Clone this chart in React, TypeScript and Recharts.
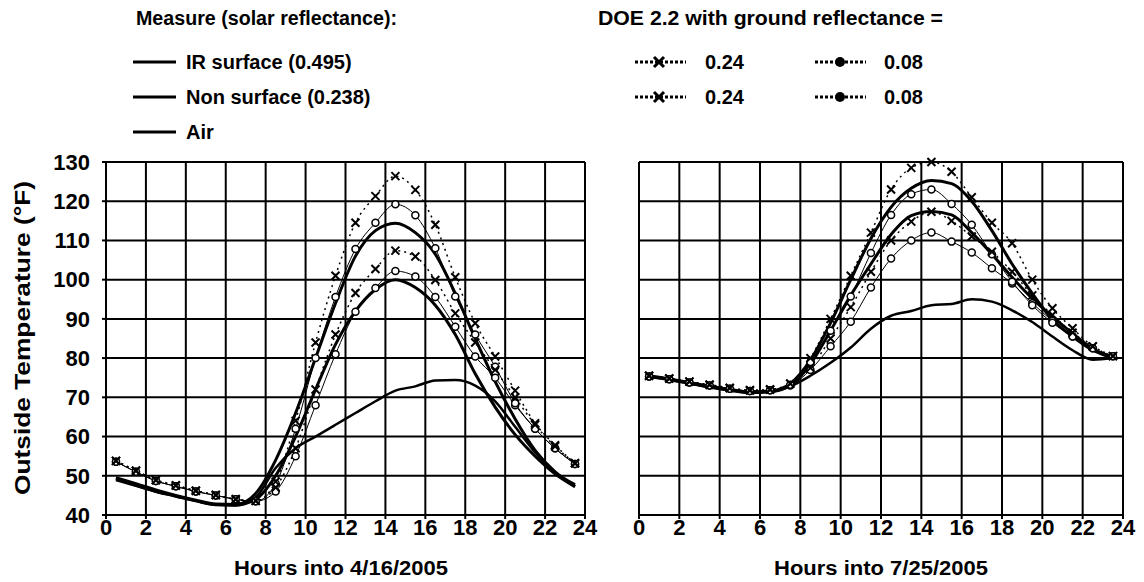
import { LineChart, Line, XAxis, YAxis, CartesianGrid } from 'recharts';

// hour of day for every reading (hourly averages, mid-hour)
const HOURS = [0.5, 1.5, 2.5, 3.5, 4.5, 5.5, 6.5, 7.5, 8.5, 9.5, 10.5, 11.5, 12.5, 13.5, 14.5, 15.5, 16.5, 17.5, 18.5, 19.5, 20.5, 21.5, 22.5, 23.5];
const X_TICKS = [0, 2, 4, 6, 8, 10, 12, 14, 16, 18, 20, 22, 24];
const Y_TICKS = [40, 50, 60, 70, 80, 90, 100, 110, 120, 130];

// 4/16/2005 - measured
const APR_NON = [49.5, 48, 46.4, 45, 43.8, 42.8, 42.7, 45.5, 54, 66, 80, 94, 106, 112.5, 114.4, 112, 106.5, 96.5, 85, 74, 64.5, 56.5, 51, 47.3];
const APR_IR = [49, 47.5, 46, 44.8, 43.6, 42.6, 42.5, 44, 50, 60, 72, 83.5, 92, 97.5, 100, 98, 93.5, 86, 76, 67.5, 60.5, 55, 50.5, 47.2];
const APR_AIR = [49.3, 47.5, 46, 44.8, 43.6, 42.6, 42.5, 44.5, 52, 57, 60, 63, 66, 69, 71.7, 72.8, 74.3, 74.4, 73, 69, 62.5, 56, 51, 47.8];
// 4/16/2005 - DOE 2.2
const APR_NON_024 = [53.8, 51.3, 48.9, 47.6, 46.2, 45.1, 44, 43.6, 48.5, 64, 84, 101, 114.5, 121.3, 126.4, 122.9, 114, 100.6, 88.9, 80.4, 71.7, 63.4, 57.8, 53.2];
const APR_NON_008 = [53.6, 51, 48.7, 47.3, 46, 45, 44, 43.5, 48, 62, 80, 95.6, 107.8, 114.5, 119.2, 116.4, 108, 95.7, 86, 77.8, 68.5, 62, 57, 53];
const APR_IR_024 = [53.8, 51.3, 48.9, 47.5, 46.2, 45.1, 44, 43.6, 47, 57, 72, 86, 96.6, 102.7, 107.4, 105.9, 99.9, 91.4, 84, 77, 70, 63, 57.5, 53.2];
const APR_IR_008 = [53.6, 51, 48.7, 47.3, 46, 45, 44, 43.5, 46, 55, 68, 81, 91.8, 97.9, 102.2, 100.8, 95.6, 88, 80.4, 75, 68, 62, 57, 53];

// 7/25/2005 - measured
const JUL_NON = [75.5, 74.7, 73.8, 72.8, 72, 71.4, 71.6, 73.5, 79.5, 89, 100, 110.5, 118.5, 123.3, 125.3, 124.5, 120, 112.5, 104, 96.5, 89.8, 85.5, 82, 80];
const JUL_IR = [75.3, 74.5, 73.6, 72.6, 71.8, 71.2, 71.4, 73, 78.5, 87, 96, 104, 111.5, 116.3, 117.4, 116.5, 112, 106.5, 100.6, 95.2, 90.6, 86.3, 82.3, 80];
const JUL_AIR = [75.3, 74.5, 73.6, 72.6, 71.8, 71.2, 71.4, 72.8, 75.5, 78.8, 82.7, 87.5, 90.8, 92, 93.5, 93.8, 95, 94.4, 92.2, 89.2, 85.5, 82, 79.6, 80];
// 7/25/2005 - DOE 2.2
const JUL_NON_024 = [75.5, 74.8, 74, 73.2, 72.4, 71.8, 72, 73.5, 80, 90, 101, 112, 123, 128.5, 130, 127.5, 121, 114.5, 109.3, 100, 92.7, 87.6, 83, 80.5];
const JUL_NON_008 = [75.3, 74.6, 73.8, 73, 72.2, 71.6, 71.8, 73.2, 79, 87, 95.7, 106.8, 116.5, 121.8, 123, 119.3, 114, 106.5, 99.5, 93.5, 89, 85.5, 82.5, 80.5];
const JUL_IR_024 = [75.5, 74.8, 74, 73.2, 72.4, 71.8, 72, 73.5, 77.5, 85, 93, 102, 110, 114.8, 117.3, 115, 111, 107.1, 102, 96, 91, 86.5, 83, 80.5];
const JUL_IR_008 = [75.3, 74.6, 73.8, 73, 72.2, 71.6, 71.8, 73, 77, 83, 89.3, 98, 105.4, 110, 112, 109.7, 106.9, 102.9, 99, 94, 89.5, 85.5, 82.5, 80.5];

const FONT = '"Liberation Sans", Arial, sans-serif';
const tickStyle = { fontFamily: FONT, fontWeight: 700, fontSize: 22, fill: '#000' };

const toRows = (vals: number[]) => HOURS.map((h, i) => ({ h, v: vals[i] }));

const CrossDot = (props: any) => {
    const { cx, cy, index } = props;
    if (cx == null || cy == null) return null;
    const s = 4;
    return (
        <path
            key={`x-${index}`}
            d={`M${cx - s},${cy - s}L${cx + s},${cy + s}M${cx + s},${cy - s}L${cx - s},${cy + s}`}
            stroke="#000"
            strokeWidth={2}
        />
    );
};

const CircleDot = (props: any) => {
    const { cx, cy, index } = props;
    if (cx == null || cy == null) return null;
    return <circle key={`o-${index}`} cx={cx} cy={cy} r={3.5} fill="#fff" stroke="#000" strokeWidth={1.5} />;
};

const NoTick = () => <g />;

interface PanelProps {
    non: number[];
    ir: number[];
    air: number[];
    non024: number[];
    non008: number[];
    ir024: number[];
    ir008: number[];
    width: number;
    margin: { top: number; right: number; bottom: number; left: number };
    yWidth: number;
    showY: boolean;
}

const Panel = ({ non, ir, air, non024, non008, ir024, ir008, width, margin, yWidth, showY }: PanelProps) => (
    <LineChart width={width} height={582} margin={margin}>
        <CartesianGrid stroke="#000" strokeWidth={2} />
        <XAxis
            type="number"
            dataKey="h"
            domain={[0, 24]}
            ticks={X_TICKS}
            interval={0}
            height={30}
            tick={tickStyle}
            tickSize={4}
            tickMargin={0}
            stroke="#000"
            strokeWidth={2}
        />
        <YAxis
            type="number"
            domain={[40, 130]}
            ticks={Y_TICKS}
            interval={0}
            width={yWidth}
            tick={showY ? tickStyle : NoTick}
            tickSize={showY ? 4 : 0}
            tickMargin={12}
            stroke="#000"
            strokeWidth={2}
        />
        <Line data={toRows(air)} dataKey="v" type="monotone" stroke="#000" strokeWidth={2.5} dot={false} isAnimationActive={false} />
        <Line data={toRows(ir008)} dataKey="v" type="monotone" stroke="#000" strokeWidth={1} dot={CircleDot} isAnimationActive={false} />
        <Line data={toRows(non008)} dataKey="v" type="monotone" stroke="#000" strokeWidth={1} dot={CircleDot} isAnimationActive={false} />
        <Line data={toRows(ir024)} dataKey="v" type="monotone" stroke="#000" strokeWidth={1.5} strokeDasharray="2 4" dot={CrossDot} isAnimationActive={false} />
        <Line data={toRows(non024)} dataKey="v" type="monotone" stroke="#000" strokeWidth={1.5} strokeDasharray="2 4" dot={CrossDot} isAnimationActive={false} />
        <Line data={toRows(ir)} dataKey="v" type="monotone" stroke="#000" strokeWidth={3} dot={false} isAnimationActive={false} />
        <Line data={toRows(non)} dataKey="v" type="monotone" stroke="#000" strokeWidth={3} dot={false} isAnimationActive={false} />
    </LineChart>
);

const textStyle = { fontFamily: FONT, fontWeight: 700, fontSize: 20, fill: '#000' };

const Overlay = () => (
    <svg width={1144} height={582} style={{ position: 'absolute', left: 0, top: 0, pointerEvents: 'none' }}>
        {/* measured legend */}
        <text x={136} y={25} style={textStyle} textLength={261} lengthAdjust="spacingAndGlyphs">Measure (solar reflectance):</text>
        {[
            { y: 62, label: 'IR surface (0.495)' },
            { y: 97, label: 'Non surface (0.238)' },
            { y: 132, label: 'Air' },
        ].map((r) => (
            <g key={r.label}>
                <line x1={133} x2={176} y1={r.y} y2={r.y} stroke="#000" strokeWidth={3} />
                <text x={186} y={r.y + 7} style={textStyle}>{r.label}</text>
            </g>
        ))}
        {/* DOE legend */}
        <text x={598} y={25} style={textStyle} textLength={345} lengthAdjust="spacingAndGlyphs">DOE 2.2 with ground reflectance =</text>
        {[62, 97].map((y) => (
            <g key={y}>
                <line x1={635} x2={686} y1={y} y2={y} stroke="#000" strokeWidth={3} strokeDasharray="3 2" />
                <path d={`M${654},${y - 5}L${664},${y + 5}M${664},${y - 5}L${654},${y + 5}`} stroke="#000" strokeWidth={3} />
                <text x={705} y={y + 7} style={textStyle}>0.24</text>
                <line x1={815} x2={866} y1={y} y2={y} stroke="#000" strokeWidth={3} strokeDasharray="3 2" />
                <circle cx={840} cy={y} r={5} fill="#000" />
                <text x={884} y={y + 7} style={textStyle}>0.08</text>
            </g>
        ))}
        {/* axis titles */}
        <text
            x={22}
            y={338}
            transform="rotate(-90 22 338)"
            textAnchor="middle"
            dominantBaseline="central"
            style={{ ...textStyle, fontSize: 22 }}
            textLength={314}
            lengthAdjust="spacingAndGlyphs"
        >
            Outside Temperature (°F)
        </text>
        <text x={341} y={575} textAnchor="middle" style={textStyle} textLength={214} lengthAdjust="spacingAndGlyphs">Hours into 4/16/2005</text>
        <text x={881} y={575} textAnchor="middle" style={textStyle} textLength={214} lengthAdjust="spacingAndGlyphs">Hours into 7/25/2005</text>
    </svg>
);

export default function App() {
    return (
        <div style={{ position: 'absolute', left: 0, top: 0, width: 1144, height: 582, background: '#fff', overflow: 'hidden' }}>
            <div style={{ position: 'absolute', left: 0, top: 0 }}>
                <Panel
                    non={APR_NON}
                    ir={APR_IR}
                    air={APR_AIR}
                    non024={APR_NON_024}
                    non008={APR_NON_008}
                    ir024={APR_IR_024}
                    ir008={APR_IR_008}
                    width={600}
                    margin={{ top: 162, right: 15, bottom: 37, left: 0 }}
                    yWidth={106}
                    showY
                />
            </div>
            <div style={{ position: 'absolute', left: 620, top: 0 }}>
                <Panel
                    non={JUL_NON}
                    ir={JUL_IR}
                    air={JUL_AIR}
                    non024={JUL_NON_024}
                    non008={JUL_NON_008}
                    ir024={JUL_IR_024}
                    ir008={JUL_IR_008}
                    width={520}
                    margin={{ top: 162, right: 17, bottom: 37, left: 19 }}
                    yWidth={0}
                    showY={false}
                />
            </div>
            <Overlay />
        </div>
    );
}
